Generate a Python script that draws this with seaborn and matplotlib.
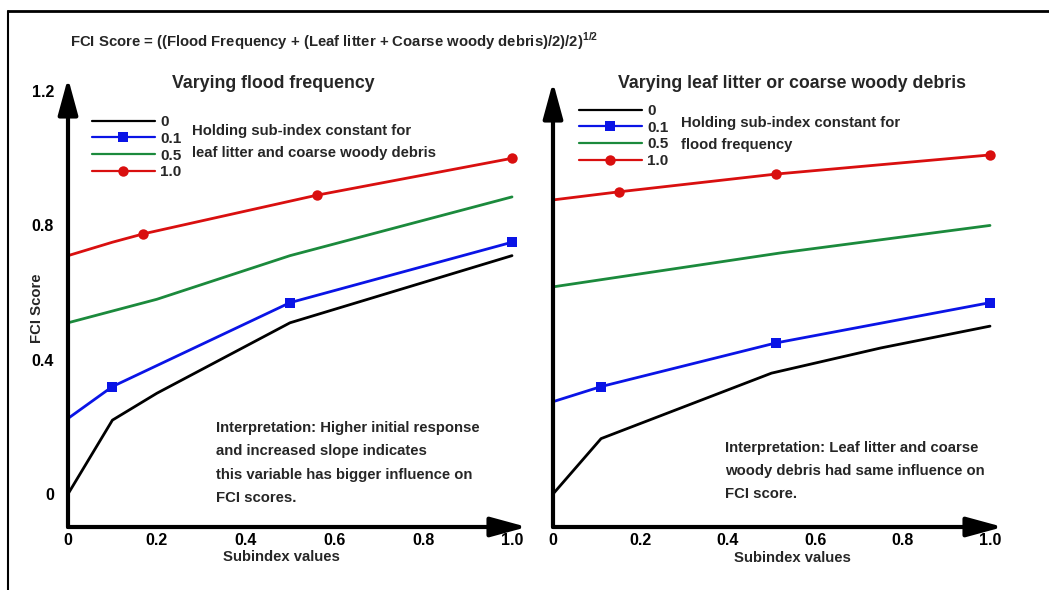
import matplotlib
matplotlib.use("Agg")
import matplotlib.pyplot as plt
import seaborn as sns
from matplotlib.lines import Line2D

# --- data ---
# left panel: varying flood frequency
ff_x_0 = [0, 0.1, 0.2, 0.5, 1.0]
ff_y_0 = [0.0, 0.22, 0.30, 0.51, 0.71]
ff_x_01 = [0, 0.1, 0.5, 1.0]
ff_y_01 = [0.225, 0.32, 0.57, 0.75]
ff_x_05 = [0, 0.2, 0.5, 1.0]
ff_y_05 = [0.51, 0.58, 0.71, 0.885]
ff_x_10 = [0, 0.1, 0.17, 0.56, 1.0]
ff_y_10 = [0.71, 0.75, 0.775, 0.89, 1.0]

# right panel: varying leaf litter or coarse woody debris
lw_x_0 = [0, 0.11, 0.5, 0.75, 1.0]
lw_y_0 = [0.0, 0.165, 0.36, 0.435, 0.50]
lw_x_01 = [0, 0.11, 0.51, 1.0]
lw_y_01 = [0.275, 0.32, 0.45, 0.57]
lw_x_05 = [0, 0.52, 1.0]
lw_y_05 = [0.617, 0.718, 0.80]
lw_x_10 = [0, 0.15, 0.51, 1.0]
lw_y_10 = [0.876, 0.90, 0.953, 1.01]

legend_labels = ["0", "0.1", "0.5", "1.0"]
x_ticks = [0, 0.2, 0.4, 0.6, 0.8, 1.0]
x_tick_labels = ["0", "0.2", "0.4", "0.6", "0.8", "1.0"]
y_ticks = [0, 0.4, 0.8, 1.2]
y_tick_labels = ["0", "0.4", "0.8", "1.2"]

colors = ["black", "#0a14e6", "#1b8a3c", "#d90f0f"]

sns.set_style("white")
plt.rcParams["font.family"] = ["Liberation Sans", "DejaVu Sans"]
plt.rcParams["font.weight"] = "bold"
plt.rcParams["mathtext.fontset"] = "custom"
plt.rcParams["mathtext.rm"] = "Liberation Sans:bold"
plt.rcParams["mathtext.bf"] = "Liberation Sans:bold"

FS = 10.7  # body text size

W, H = 1049, 590
fig = plt.figure(figsize=(W / 100, H / 100), dpi=100)


def fx(px):
    return px / W


def fy(py):
    return 1 - py / H


def make_axes(left, right, top, bottom, x_zero, x_unit, y_zero, y_unit):
    ax = fig.add_axes([fx(left), fy(bottom), fx(right - left), (bottom - top) / H])
    ax.set_xlim((left - x_zero) / x_unit, (right - x_zero) / x_unit)
    ax.set_ylim((y_zero - bottom) / y_unit, (y_zero - top) / y_unit)
    for s in ax.spines.values():
        s.set_visible(False)
    # axis lines with arrow heads
    arrow = dict(arrowstyle="-|>,head_length=1.1,head_width=0.3", color="black",
                 lw=3, mutation_scale=20, shrinkA=0, shrinkB=0)
    ax.annotate("", xy=(0, 1), xytext=(0, 0), xycoords="axes fraction", arrowprops=arrow)
    ax.annotate("", xy=(1, 0), xytext=(0, 0), xycoords="axes fraction", arrowprops=arrow)
    ax.tick_params(length=0, labelsize=11.5, colors="black")
    ax.set_xticks(x_ticks)
    ax.set_xticklabels(x_tick_labels, fontweight="bold")
    ax.tick_params(axis="x", pad=4)
    ax.tick_params(axis="y", pad=10)
    return ax


def draw_series(ax, xs, ys):
    markers = [None, "s", None, "o"]
    for i, (x, y) in enumerate(zip(xs, ys)):
        kw = {}
        if markers[i]:
            kw = dict(marker=markers[i], markersize=7.5 if markers[i] == "o" else 6.5,
                      markeredgewidth=0, markevery=list(range(len(x) - 3, len(x))))
        sns.lineplot(x=x, y=y, ax=ax, color=colors[i], lw=2, label=legend_labels[i], **kw)


# left panel
ax1 = make_axes(68, 527, 78, 527, 68, 444, 494, 335.7)
draw_series(ax1, [ff_x_0, ff_x_01, ff_x_05, ff_x_10], [ff_y_0, ff_y_01, ff_y_05, ff_y_10])
ax1.set_yticks(y_ticks)
ax1.set_yticklabels(y_tick_labels, fontweight="bold")
ax1.set_xlabel("Subindex values", fontsize=FS, fontweight="bold")
ax1.xaxis.set_label_coords((281 - 68) / 459, (527 - 550) / 449)
ax1.set_ylabel("FCI Score", fontsize=FS, fontweight="bold")
ax1.yaxis.set_label_coords((44 - 68) / 459, (527 - 308) / 449)

# right panel
ax2 = make_axes(553, 1003, 82, 527, 553, 437, 494, 335.7)
draw_series(ax2, [lw_x_0, lw_x_01, lw_x_05, lw_x_10], [lw_y_0, lw_y_01, lw_y_05, lw_y_10])
ax2.set_yticks([])
ax2.set_xlabel("Subindex values", fontsize=FS, fontweight="bold")
ax2.xaxis.set_label_coords((792 - 553) / 450, (527 - 551) / 445)

# legends
for ax, (lx, ly) in [(ax1, (92, 115)), (ax2, (579, 104))]:
    leg = ax.legend(loc="upper left", bbox_to_anchor=(fx(lx), fy(ly)), bbox_transform=fig.transFigure,
                    frameon=False, fontsize=11, handlelength=4.1, handletextpad=0.35,
                    labelspacing=0.18, borderpad=0, borderaxespad=0, numpoints=1)
    for h in leg.legend_handles:
        h.set_linewidth(1.6)

# texts
fig.text(fx(273), fy(84), "Varying flood frequency", fontsize=12.8, fontweight="bold",
         ha="center", va="center")
fig.text(fx(792), fy(84), "Varying leaf litter or coarse woody debris", fontsize=12.8,
         fontweight="bold", ha="center", va="center")
fig.text(fx(70), fy(41), r"FCI Score = ((Flood Frequency + (Leaf litter + Coarse woody debris)/2)/2)$^{1/2}$",
         fontsize=FS, fontweight="bold", va="center")
fig.text(fx(192), fy(142), "Holding sub-index constant for\nleaf litter and coarse woody debris",
         fontsize=FS, fontweight="bold", va="center", linespacing=1.75)
fig.text(fx(681), fy(134), "Holding sub-index constant for\nflood frequency",
         fontsize=FS, fontweight="bold", va="center", linespacing=1.75)
fig.text(fx(216), fy(463), "Interpretation: Higher initial response\nand increased slope indicates\n"
         "this variable has bigger influence on\nFCI scores.",
         fontsize=FS, fontweight="bold", va="center", linespacing=1.85)
fig.text(fx(725), fy(471), "Interpretation: Leaf litter and coarse\nwoody debris had same influence on\nFCI score.",
         fontsize=FS, fontweight="bold", va="center", linespacing=1.85)

# outer frame of the original figure
fig.add_artist(Line2D([fx(8), 1], [fy(11), fy(11)], color="black", lw=2))
fig.add_artist(Line2D([fx(8), fx(8)], [fy(11), 0], color="black", lw=1.5))

fig.savefig("out.png", dpi=100)
